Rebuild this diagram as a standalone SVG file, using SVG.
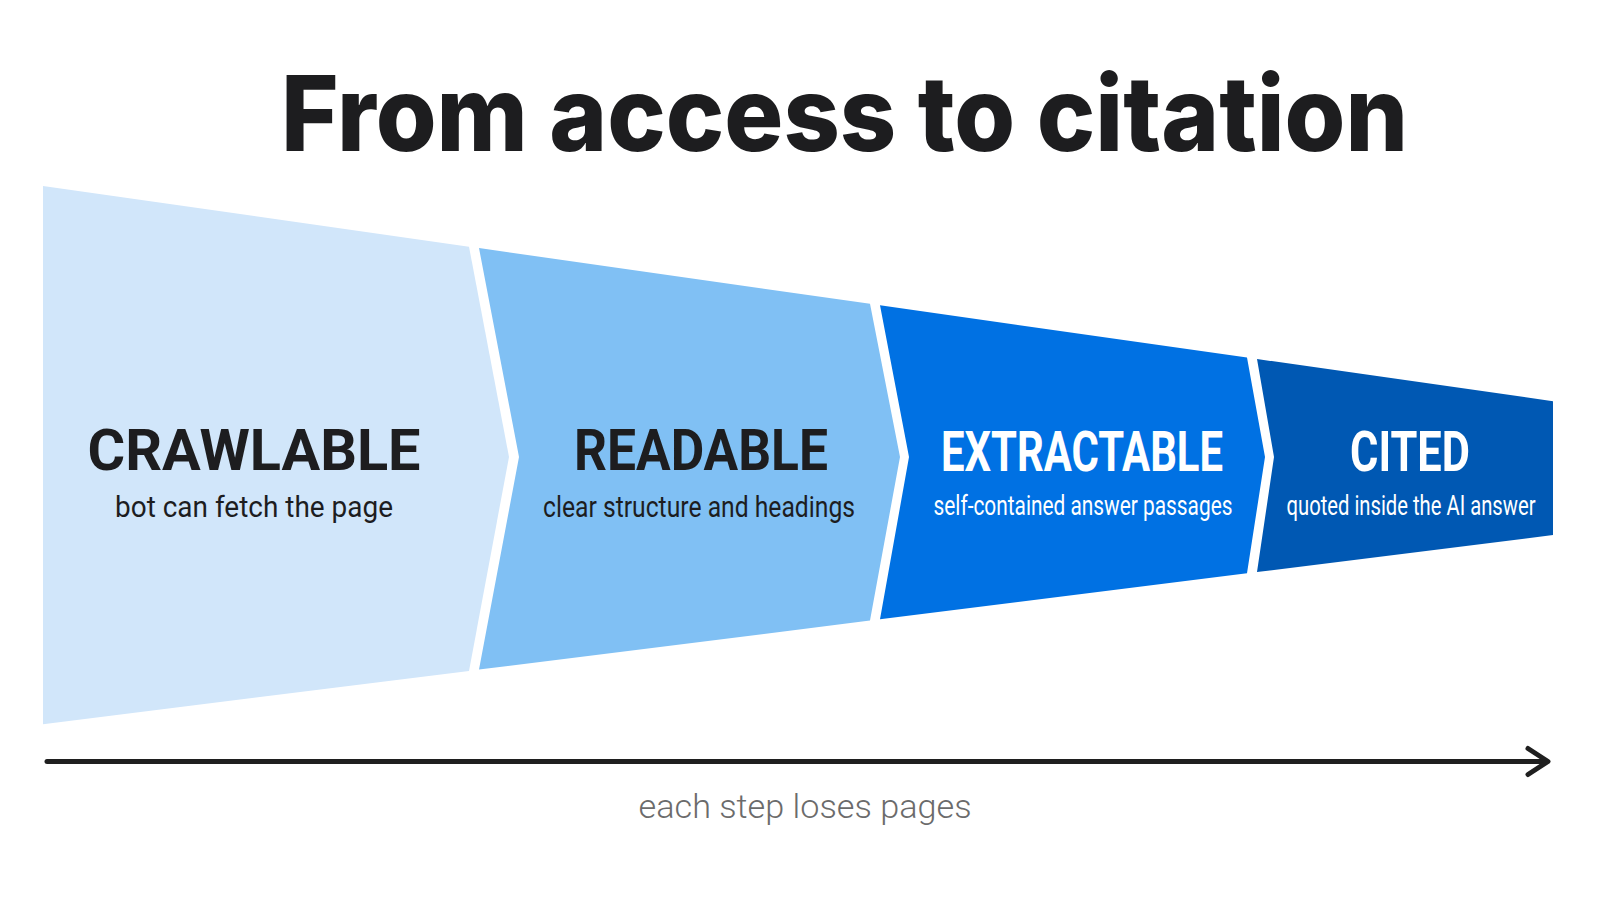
<svg xmlns="http://www.w3.org/2000/svg" width="1600" height="900" viewBox="0 0 1600 900">
  <defs>
    <style>
      .title { font-family: Inter, "Liberation Sans", sans-serif; font-weight: 800; font-size: 104px; fill: #1d1d1f; }
      .lbl { font-family: Roboto, "Liberation Sans", sans-serif; font-weight: 700; text-anchor: middle; }
      .sub { font-family: Roboto, "Liberation Sans", sans-serif; font-weight: 400; text-anchor: middle; }
      .dark { fill: #1d1d1f; }
      .light { fill: #ffffff; }
      .cap { font-family: Roboto, "Liberation Sans", sans-serif; font-weight: 300; font-size: 34px; fill: #6b6b6b; text-anchor: middle; }
      .axis { stroke: #1f1f1f; stroke-width: 5; fill: none; stroke-linecap: round; stroke-linejoin: round; }
    </style>
  </defs>
  <rect width="1600" height="900" fill="#ffffff"/>
  <text class="title" x="281" y="151" textLength="1127" lengthAdjust="spacingAndGlyphs">From access to citation</text>

  <g id="crawlable">
    <polygon points="43,186 469,246.7 509,457 469,670.9 43,724.3" fill="#D1E6FA"/>
    <text class="lbl dark" x="254" y="470" font-size="58" textLength="333" lengthAdjust="spacingAndGlyphs">CRAWLABLE</text>
    <text class="sub dark" x="254" y="517" font-size="29" textLength="278" lengthAdjust="spacingAndGlyphs">bot can fetch the page</text>
  </g>
  <g id="readable">
    <polygon points="479,248.1 870,303.8 900,457 870,620.6 479,669.6 519,457" fill="#80C0F4"/>
    <text class="lbl dark" x="701" y="470" font-size="58" textLength="254" lengthAdjust="spacingAndGlyphs">READABLE</text>
    <text class="sub dark" x="699" y="517" font-size="29" textLength="312" lengthAdjust="spacingAndGlyphs">clear structure and headings</text>
  </g>
  <g id="extractable">
    <polygon points="880,305.3 1247,357.6 1265,457 1247,573.3 880,619.3 909,457" fill="#0071E3"/>
    <text class="lbl light" x="1082" y="471" font-size="55" textLength="282" lengthAdjust="spacingAndGlyphs">EXTRACTABLE</text>
    <text class="sub light" x="1083" y="515" font-size="27" textLength="299" lengthAdjust="spacingAndGlyphs">self-contained answer passages</text>
  </g>
  <g id="cited">
    <polygon points="1257,359 1553,401.2 1553,535 1257,572.1 1274,457" fill="#0058B3"/>
    <text class="lbl light" x="1410" y="471" font-size="55" textLength="120" lengthAdjust="spacingAndGlyphs">CITED</text>
    <text class="sub light" x="1411" y="515" font-size="27" textLength="249" lengthAdjust="spacingAndGlyphs">quoted inside the AI answer</text>
  </g>

  <g id="connectors">
    <line class="axis" x1="47" y1="761.5" x2="1546" y2="761.5"/>
    <polyline class="axis" points="1528,748.5 1548,761.5 1528,774.5"/>
  </g>
  <text class="cap" x="805" y="818" textLength="333" lengthAdjust="spacingAndGlyphs">each step loses pages</text>
</svg>
